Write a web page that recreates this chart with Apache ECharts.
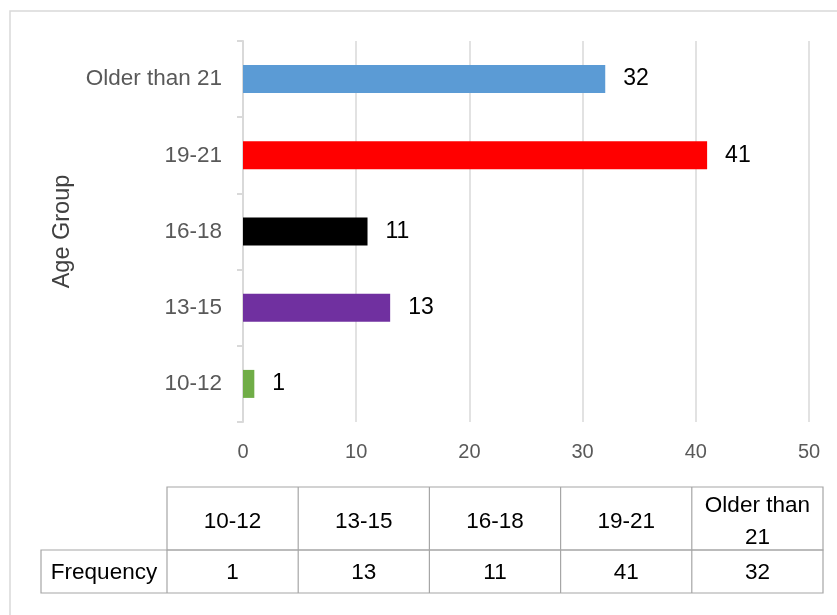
<!DOCTYPE html>
<html>
<head>
<meta charset="utf-8">
<script src="https://cdn.jsdelivr.net/npm/echarts@6/dist/echarts.min.js"></script>
<style>html,body{margin:0;padding:0;background:#fff;}#c{width:837px;height:615px;}</style>
</head>
<body>
<div id="c"></div>
<script>
var categories = ['10-12', '13-15', '16-18', '19-21', 'Older than 21'];
var tableHeaders = ['10-12', '13-15', '16-18', '19-21', 'Older than\n21'];
var frequency = [1, 13, 11, 41, 32];
var barColors = ['#70ad47', '#7030a0', '#000000', '#ff0000', '#5b9bd5'];
var xTicks = [0, 10, 20, 30, 40, 50];
var rowLabel = 'Frequency';
var axisTitle = 'Age Group';

var FONT = 'Liberation Sans';
var chart = echarts.init(document.getElementById('c'));

// table graphics built from arrays
var g = [];
g.push({type: 'rect', shape: {x: 10, y: 11, width: 860, height: 640}, style: {fill: 'none', stroke: '#d9d9d9', lineWidth: 1.5}, silent: true});
var tx0 = 167, colW = 131.2, hTop = 487, hMid = 550, hBot = 593, fLeft = 41;
var lineStyle = {stroke: '#a6a6a6', lineWidth: 1.2};
g.push({type: 'rect', shape: {x: tx0, y: hTop, width: colW * categories.length, height: hMid - hTop}, style: Object.assign({fill: 'none'}, lineStyle)});
g.push({type: 'rect', shape: {x: fLeft, y: hMid, width: tx0 + colW * categories.length - fLeft, height: hBot - hMid}, style: Object.assign({fill: 'none'}, lineStyle)});
g.push({type: 'line', shape: {x1: tx0, y1: hMid, x2: tx0, y2: hBot}, style: lineStyle});
for (var i = 1; i < categories.length; i++) {
  var x = tx0 + colW * i;
  g.push({type: 'line', shape: {x1: x, y1: hTop, x2: x, y2: hBot}, style: lineStyle});
}
var tFont = '22.5px "' + FONT + '"';
for (var i = 0; i < categories.length; i++) {
  var cx = tx0 + colW * (i + 0.5);
  g.push({type: 'text', style: {text: tableHeaders[i], x: cx, y: (hTop + hMid) / 2 + 3, align: 'center', verticalAlign: 'middle', font: tFont, fill: '#000', lineHeight: 32}});
  g.push({type: 'text', style: {text: String(frequency[i]), x: cx, y: (hMid + hBot) / 2 + 1, align: 'center', verticalAlign: 'middle', font: tFont, fill: '#000'}});
}
g.push({type: 'text', style: {text: rowLabel, x: (fLeft + tx0) / 2, y: (hMid + hBot) / 2 + 1, align: 'center', verticalAlign: 'middle', font: tFont, fill: '#000'}});

chart.setOption({
  animation: false,
  textStyle: {fontFamily: FONT},
  grid: {left: 243, right: 28, top: 41, bottom: 193},
  xAxis: {
    type: 'value', min: 0, max: 50, interval: 10,
    axisLine: {show: false}, axisTick: {show: false},
    splitLine: {lineStyle: {color: '#d9d9d9', width: 1.5}},
    axisLabel: {color: '#595959', fontSize: 20, margin: 20, formatter: function (v) { return xTicks.indexOf(v) >= 0 ? String(v) : ''; }}
  },
  yAxis: {
    type: 'category', data: categories,
    name: axisTitle, nameLocation: 'middle', nameRotate: 90, nameGap: 168,
    nameTextStyle: {fontSize: 23.5, color: '#404040'},
    axisLine: {lineStyle: {color: '#d9d9d9', width: 2}},
    axisTick: {show: true, length: 6, lineStyle: {color: '#d9d9d9', width: 2}},
    axisLabel: {color: '#595959', fontSize: 22.5, margin: 21}
  },
  series: [{
    type: 'bar', barWidth: 28,
    data: frequency.map(function (v, i) { return {value: v, itemStyle: {color: barColors[i]}}; }),
    label: {show: true, position: 'right', distance: 18, color: '#000', fontSize: 23}
  }],
  graphic: g
});
</script>
</body>
</html>
